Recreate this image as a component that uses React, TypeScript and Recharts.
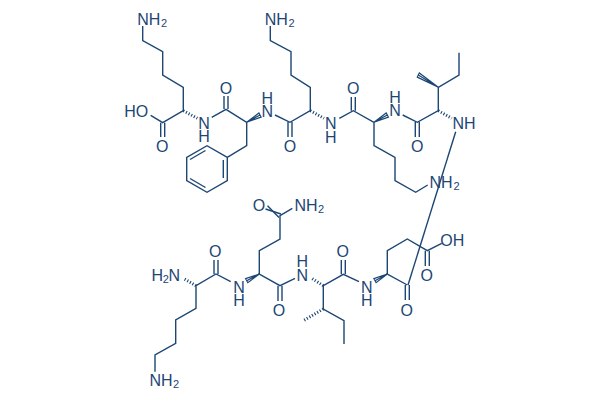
import React from "react";
import { ComposedChart, Line, Scatter, XAxis, YAxis } from "recharts";

const INK = "#1c4674";

type Pt = [number, number];
type AtomLabel = [number, number, string];

// skeleton chains (x, y in picture units)
const lys1Chain: Pt[] = [[142.7, 26], [142.7, 40.7], [162.7, 51.7], [162.7, 75], [183.3, 87.3], [183.3, 110.7], [162.7, 122.7], [150.7, 115.3]];
const lys1Amide: Pt[] = [[211.7, 117.3], [226, 109.3], [246.7, 122.3], [246.7, 145.7], [227.3, 157.3]];
const pheAmide: Pt[] = [[275, 115], [290, 122.3], [310.3, 110.7], [310.3, 87.3], [291, 75], [291, 51.7], [270.3, 40.7], [270.3, 26]];
const lys2Amide: Pt[] = [[339.3, 118.3], [353.3, 110.7], [374, 122.3], [374, 145.7], [395, 157.3], [395, 180.7], [415.7, 192.3], [427.7, 185]];
const lys3Amide: Pt[] = [[402.7, 115], [417.3, 122.3], [438.3, 110.7], [438.3, 87.3], [459, 75], [459, 52.7]];
const pheRing: Pt[] = [[227.3, 157.3], [227.3, 180.7], [207, 192.3], [186.7, 180.7], [186.7, 157.3], [207, 145.7], [227.3, 157.3]];
const ringInner1: Pt[] = [[223.3, 160], [223.3, 178]];
const ringInner2: Pt[] = [[205.5, 187.5], [190, 178.5]];
const ringInner3: Pt[] = [[190, 159.5], [205.5, 150.5]];
const longBond: Pt[] = [[455.7, 131.7], [408, 285]];
const lys4Chain: Pt[] = [[155, 371.7], [155, 355], [175.7, 343.3], [175.7, 320], [196, 308.3], [196, 285.7], [216, 274], [230.7, 281.7]];
const glnChain: Pt[] = [[295, 278.3], [280, 285.7], [259.3, 274], [259.3, 250.7], [280, 239], [280, 215.7], [292.3, 208.3]];
const ile2Chain: Pt[] = [[359, 281.7], [343.3, 274.3], [323.3, 285.7], [323.3, 309], [344, 320.7], [344, 344]];
const gluChain: Pt[] = [[407.3, 285], [387.3, 274], [387.3, 250.7], [407.3, 239], [427.3, 250.7], [441.7, 243.3]];

const doubleBonds: Pt[][] = [
  [[160.7, 122.7], [160.7, 137]], [[164.7, 122.7], [164.7, 137]],
  [[224, 109], [224, 96]], [[228, 109], [228, 96]],
  [[288, 122], [288, 137]], [[292, 122], [292, 137]],
  [[351.3, 110.7], [351.3, 97]], [[355.3, 110.7], [355.3, 97]],
  [[415.3, 122], [415.3, 137]], [[419.3, 122], [419.3, 137]],
  [[214, 274], [214, 260]], [[218, 274], [218, 260]],
  [[278, 285.7], [278, 301]], [[282, 285.7], [282, 301]],
  [[341.3, 274.3], [341.3, 260]], [[345.3, 274.3], [345.3, 260]],
  [[405.3, 285], [405.3, 300]], [[409.3, 285], [409.3, 300]],
  [[425.3, 250.7], [425.3, 266]], [[429.3, 250.7], [429.3, 266]],
  [[279, 217.4], [267.5, 205.7]], [[281, 214], [265.5, 209]],
];

// filled wedges: tip, base corner, base corner, tip, base middle
const wedges: Pt[][] = [
  [[246.7, 122.3], [258.9, 112.9], [261.1, 117.1], [246.7, 122.3], [260, 115]],
  [[374, 122.3], [386.2, 112.9], [388.4, 117.1], [374, 122.3], [387.3, 115]],
  [[259.3, 274], [245.6, 278.7], [247.8, 282.7], [259.3, 274], [246.7, 280.7]],
  [[387.3, 274], [373.9, 278.7], [376.1, 282.7], [387.3, 274], [375, 280.7]],
  [[438.3, 87.3], [419.3, 72.9], [417.3, 77.1], [438.3, 87.3], [418.3, 75]],
];

const hashBonds: Pt[][] = [
  [[183.3, 110.7], [197.3, 118.3]],
  [[310.3, 110.7], [324, 118.3]],
  [[438.3, 110.7], [451.7, 118.3]],
  [[196, 285.7], [183.3, 278.3]],
  [[323.3, 285.7], [311.7, 278.3]],
  [[323.3, 309], [303.3, 320.7]],
];

const atomLabels: AtomLabel[] = [
  [148.7, 19, "NH"], [276.3, 19, "NH"], [441, 182.7, "NH"], [306, 205, "NH"], [161, 380, "NH"],
  [157.3, 275, "H"], [174.3, 275, "N"], [136.3, 111.7, "HO"], [452.3, 240, "OH"], [464, 123.3, "NH"],
  [204, 123, "N"], [204, 136, "H"], [267.3, 111.7, "N"], [267.3, 98.3, "H"],
  [330.7, 123.3, "N"], [330.7, 137.3, "H"], [395, 110.7, "N"], [395, 97.3, "H"],
  [239, 287.3, "N"], [239, 300.7, "H"], [302.3, 275, "N"], [302.3, 261.7, "H"],
  [366.7, 287.3, "N"], [366.7, 300.7, "H"],
  [162.3, 146.7, "O"], [226, 88.3, "O"], [290, 146.7, "O"], [353.3, 88.3, "O"], [417.3, 146.7, "O"],
  [215.3, 251.7, "O"], [279, 310, "O"], [342.7, 251.7, "O"], [406.7, 310, "O"], [426.7, 275, "O"], [259, 205, "O"],
];
const subLabels: AtomLabel[] = [
  [164, 23, "2"], [291.5, 23, "2"], [456.5, 186, "2"], [321, 209.3, "2"], [176, 384, "2"], [165.7, 279, "2"],
];

const chains = [lys1Chain, lys1Amide, pheAmide, lys2Amide, lys3Amide, pheRing, ringInner1, ringInner2, ringInner3, longBond, lys4Chain, glnChain, ile2Chain, gluChain, ...doubleBonds];

const toRows = (pts: Pt[]) => pts.map(([x, y]) => ({ x, y }));
const toLabelRows = (rows: AtomLabel[]) => rows.map(([x, y, text]) => ({ x, y, text }));

const labelShape = (size: number) => (props: any) => (
  <text
    x={props.cx}
    y={props.cy}
    textAnchor="middle"
    dominantBaseline="central"
    fontFamily="Liberation Sans"
    fontSize={size}
    fill={INK}
  >
    {props.payload.text}
  </text>
);

export default function App() {
  return (
    <div style={{ position: "absolute", left: 0, top: 0 }}>
      <ComposedChart width={600} height={400} margin={{ top: 0, right: 0, bottom: 0, left: 0 }}>
        <XAxis type="number" dataKey="x" domain={[0, 600]} hide />
        <YAxis type="number" dataKey="y" domain={[0, 400]} reversed hide />
        {chains.map((c, i) => (
          <Line key={"c" + i} data={toRows(c)} dataKey="y" type="linear" stroke={INK} strokeWidth={1.4} dot={false} activeDot={false} isAnimationActive={false} />
        ))}
        {wedges.map((c, i) => (
          <Line key={"w" + i} data={toRows(c)} dataKey="y" type="linear" stroke={INK} strokeWidth={1.2} dot={false} activeDot={false} isAnimationActive={false} />
        ))}
        {hashBonds.map((c, i) => (
          <Line key={"h" + i} data={toRows(c)} dataKey="y" type="linear" stroke={INK} strokeWidth={3} strokeDasharray="1.1 1.9" dot={false} activeDot={false} isAnimationActive={false} />
        ))}
        <Scatter data={toLabelRows(atomLabels)} dataKey="y" shape={labelShape(16)} isAnimationActive={false} />
        <Scatter data={toLabelRows(subLabels)} dataKey="y" shape={labelShape(11)} isAnimationActive={false} />
      </ComposedChart>
    </div>
  );
}
